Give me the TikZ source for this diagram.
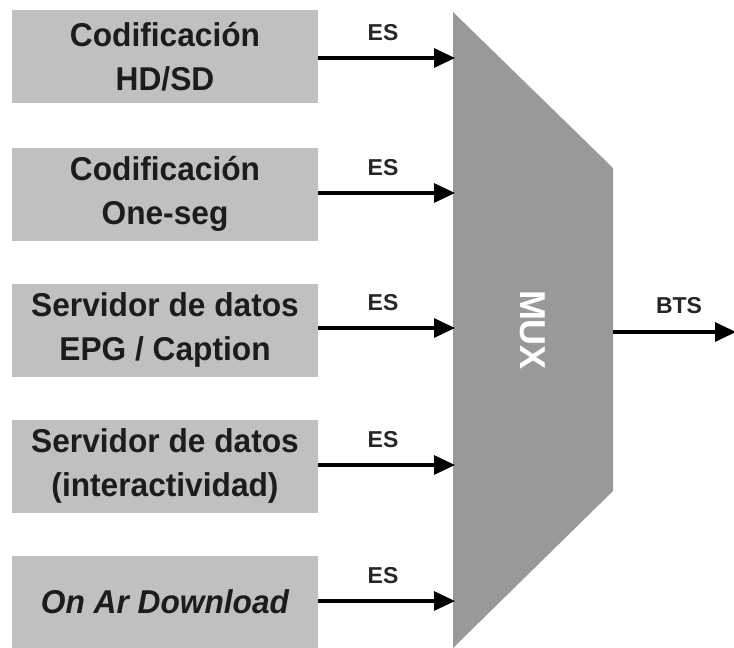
\documentclass[tikz,border=0pt]{standalone}
\usepackage{fontspec}
\setmainfont{Liberation Sans}
\newfontfamily\narrowbold[FakeStretch=0.96]{Liberation Sans}
\usetikzlibrary{arrows.meta}
\definecolor{boxgray}{HTML}{C0C0C0}
\definecolor{muxgray}{HTML}{999999}
\definecolor{inkdark}{HTML}{1C1C1C}
\begin{document}
\begin{tikzpicture}[x=1pt,y=-1pt,
  srcbox/.style={fill=boxgray, draw=none, minimum width=306pt, minimum height=93pt,
    inner sep=0pt, align=center, text=inkdark, font=\narrowbold\bfseries\fontsize{33}{44}\selectfont},
  flow/.style={line width=3.2pt, -{Triangle[length=21pt,width=19pt]}},
  flowlabel/.style={font=\bfseries\fontsize{23}{25}\selectfont, text=black!85}]
  \useasboundingbox (0,0) rectangle (734,648);
  % multiplexer body
  \fill[muxgray] (453,12) -- (613,168) -- (613,491) -- (453,648) -- cycle;
  \node[rotate=-90, text=white, font=\bfseries\fontsize{36}{40}\selectfont] (mux) at (533,330) {MUX};
  % sources
  \node[srcbox] (s1) at (165,56.5) {Codificación\\HD/SD};
  \node[srcbox] (s2) at (165,194) {Codificación\\One-seg};
  \node[srcbox] (s3) at (165,330) {Servidor de datos\\EPG / Caption};
  \node[srcbox] (s4) at (165,466) {Servidor de datos\\(interactividad)};
  \node[srcbox, font=\narrowbold\bfseries\itshape\fontsize{33}{44}\selectfont, minimum height=92pt] (s5) at (165,602) {On Ar Download};
  % entry points on the MUX side
  \coordinate (m1) at (455,58);
  \coordinate (m2) at (455,193);
  \coordinate (m3) at (455,328);
  \coordinate (m4) at (455,465);
  \coordinate (m5) at (455,601);
  \coordinate (out) at (736,332);
  \foreach \i/\y in {1/58,2/193,3/328,4/465,5/601}{
    \draw[flow] (s\i.east |- m\i) -- (m\i);
    \node[flowlabel] at (383,\y-25) {ES};
  }
  \draw[flow] (613,332) -- (out);
  \node[flowlabel] (bts) at (679,306) {BTS};
\end{tikzpicture}
\end{document}
